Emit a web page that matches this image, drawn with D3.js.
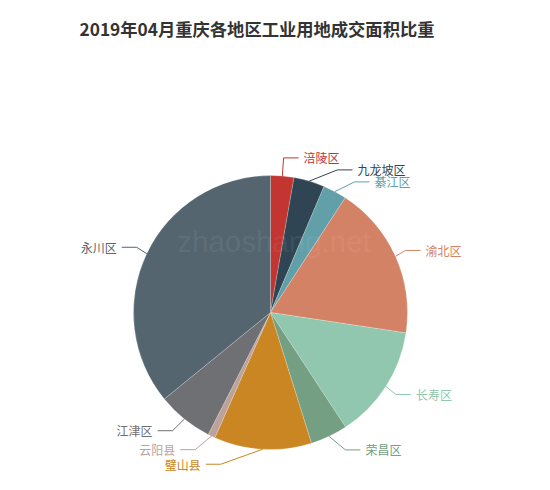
<!DOCTYPE html>
<html><head><meta charset="utf-8">
<script src="https://cdn.jsdelivr.net/npm/d3@7"></script>
<style>
html,body{margin:0;padding:0;background:#fff;}
svg{display:block;}
</style></head>
<body>
<svg id="chart" width="550" height="490"></svg>
<script>
const title = "2019年04月重庆各地区工业用地成交面积比重";
const categories = ["涪陵区","九龙坡区","綦江区","渝北区","长寿区","荣昌区","璧山县","云阳县","江津区","永川区"];
const values = [2.75, 3.64, 2.8, 18.2, 13.4, 4.4, 11.5, 0.86, 6.6, 35.9];
const colors = ["#c23531","#2f4554","#61a0a8","#d48265","#91c7ae","#749f83","#ca8622","#bda29a","#6e7074","#546570"];

const W = 550, H = 490;
const cx = 270.5, cy = 312.5, R = 137;
const len1 = 15, len2 = 15, labelH = 12;
const font = '"Noto Sans CJK SC","Microsoft YaHei",sans-serif';

const svg = d3.select("#chart");

svg.append("text")
  .attr("x", 257).attr("y", 28)
  .attr("text-anchor", "middle").attr("dominant-baseline", "central")
  .attr("font-family", font).attr("font-weight", "bold").attr("font-size", 17.3)
  .attr("fill", "#333").text(title);

const data = categories.map((c, i) => ({name: c, value: values[i], color: colors[i]}));
const pie = d3.pie().sort(null).value(d => d.value);
const arcs = pie(data);
const arc = d3.arc().innerRadius(0).outerRadius(R);

const g = svg.append("g").attr("transform", `translate(${cx},${cy})`);
g.selectAll("path").data(arcs).enter().append("path")
  .attr("d", arc)
  .attr("fill", d => d.data.color)
  .attr("stroke", "rgba(255,255,255,0.35)").attr("stroke-width", 0.6);

// label layout (ECharts-like)
const layouts = arcs.map(a => {
  const m = (a.startAngle + a.endAngle) / 2;
  const dx = Math.sin(m), dy = -Math.cos(m);
  const x1 = cx + R * dx, y1 = cy + R * dy;
  const x2 = x1 + dx * len1, y2 = y1 + dy * len1;
  const dir = dx < 0 ? -1 : 1;
  const x3 = x2 + dir * len2;
  return {d: a.data, x1, y1, x2, y2, x3, dir, x: x3 + dir * 5, y: y2};
});

function adjustSide(list, dir) {
  list.sort((a, b) => a.y - b.y);
  const n = list.length;
  function shiftUp(end, delta) {
    for (let j = end; j >= 0; j--) {
      list[j].y -= delta;
      if (j > 0 && list[j].y > list[j - 1].y + labelH) break;
    }
  }
  function shiftDown(start, end, delta) {
    for (let j = start; j < end; j++) {
      list[j].y += delta;
      if (j > start && j + 1 < end && list[j + 1].y > list[j].y + labelH) {
        shiftUp(j, delta / 2);
        return;
      }
    }
    shiftUp(end - 1, delta / 2);
  }
  let lastY = 0;
  for (let i = 0; i < n; i++) {
    const delta = list[i].y - lastY;
    if (delta < 0) shiftDown(i, n, -delta);
    lastY = list[i].y + labelH;
  }
  const up = list.filter(l => l.y < cy), down = list.filter(l => l.y >= cy);
  function changeX(arr, isDown) {
    let last = isDown ? Number.MAX_VALUE : 0;
    arr.forEach(l => {
      const dY = Math.abs(l.y - cy);
      let dX = dY < R + len1 ? Math.sqrt((R + len1 + len2) ** 2 - dY * dY) : Math.abs(l.x - cx);
      if (isDown && dX >= last) dX = last - 10;
      if (!isDown && dX <= last) dX = last + 10;
      l.x = cx + dX * dir;
      last = dX;
    });
  }
  changeX(up, false);
  changeX(down, true);
}
adjustSide(layouts.filter(l => l.dir > 0), 1);
adjustSide(layouts.filter(l => l.dir < 0), -1);

layouts.forEach(l => {
  const dist = l.x2 - l.x3;
  l.x3 = l.x - l.dir * 5;
  l.x2 = l.x3 + dist;
  l.y2 = l.y;
});

const lg = svg.append("g");
lg.selectAll("polyline").data(layouts).enter().append("polyline")
  .attr("points", l => `${l.x1},${l.y1} ${l.x2},${l.y2} ${l.x3},${l.y2}`)
  .attr("fill", "none").attr("stroke", l => l.d.color).attr("stroke-width", 1);
lg.selectAll("text").data(layouts).enter().append("text")
  .attr("x", l => l.x).attr("y", l => l.y)
  .attr("text-anchor", l => l.dir > 0 ? "start" : "end")
  .attr("dominant-baseline", "central")
  .attr("font-family", font).attr("font-size", 12)
  .attr("fill", l => l.d.color).text(l => l.d.name);

// watermark
svg.append("text")
  .attr("x", 274).attr("y", 252)
  .attr("text-anchor", "middle")
  .attr("font-family", '"Liberation Sans",Arial,sans-serif').attr("font-size", 29.5)
  .attr("fill", "rgba(255,255,255,0.08)").text("zhaoshang.net");
</script>
</body></html>
